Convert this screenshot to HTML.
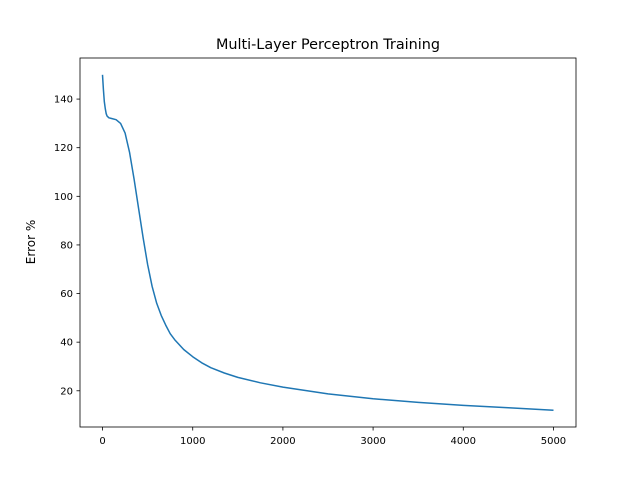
<!DOCTYPE html>
<html><head><meta charset="utf-8"><style>body{margin:0;background:#fff}svg{display:block;font-family:"DejaVu Sans","Liberation Sans",sans-serif}</style></head>
<body>
<svg id="chart" width="640" height="480">
<rect width="640" height="480" fill="#fff"/>
<text x="328" y="49" font-size="14.4" text-anchor="middle">Multi-Layer Perceptron Training</text>
<text transform="translate(35,242) rotate(-90)" font-size="12" text-anchor="middle">Error %</text>
<g id="ticks"></g>
<path id="line" fill="none" stroke="#1f77b4" stroke-width="1.5" stroke-linejoin="round"/>
<rect x="80" y="58" width="496" height="369" fill="none" stroke="#000" stroke-width="0.8"/>
</svg>
<script>
const epochs=[0,10,20,30,40,50,70,100,150,200,250,300,350,400,450,500,550,600,650,700,750,800,900,1000,1100,1200,1350,1500,1750,2000,2500,3000,3500,4000,4500,5000];
const errors=[150,144,139,136,134,133,132.3,132,131.5,130,126,118,107,95,83,72,63,56,51,47,43.5,41,37,34,31.5,29.5,27.3,25.5,23.3,21.5,18.7,16.7,15.2,14,13,12];
const xTicks=[0,1000,2000,3000,4000,5000];
const yTicks=[20,40,60,80,100,120,140];
const L=80,R=576,T=58,B=427,x0=-250,x1=5250,y0=5.1,y1=156.9;
const sx=v=>L+(v-x0)/(x1-x0)*(R-L), sy=v=>B-(v-y0)/(y1-y0)*(B-T);
const ns='http://www.w3.org/2000/svg', g=document.getElementById('ticks');
function mk(t,a){const e=document.createElementNS(ns,t);for(const k in a)e.setAttribute(k,a[k]);g.appendChild(e);return e;}
xTicks.forEach(v=>{const x=sx(v);
 const l=mk('line',{x1:x,x2:x,y1:B,y2:B+3.5,stroke:'#000','stroke-width':0.8});
 
 
 const t=mk('text',{x:x,y:B+17,'font-size':10,'text-anchor':'middle'});t.textContent=v;
 
 });
yTicks.forEach(v=>{const y=sy(v);
 const l=mk('line',{x1:L-3.5,x2:L,y1:y,y2:y,stroke:'#000','stroke-width':0.8});
 
 
 const t=mk('text',{x:L-7,y:y+3.5,'font-size':10,'text-anchor':'end'});t.textContent=v;
 
 });
document.getElementById('line').setAttribute('d',epochs.map((e,i)=>(i?'L':'M')+sx(e).toFixed(1)+','+sy(errors[i]).toFixed(1)).join(''));
</script>
</body></html>
